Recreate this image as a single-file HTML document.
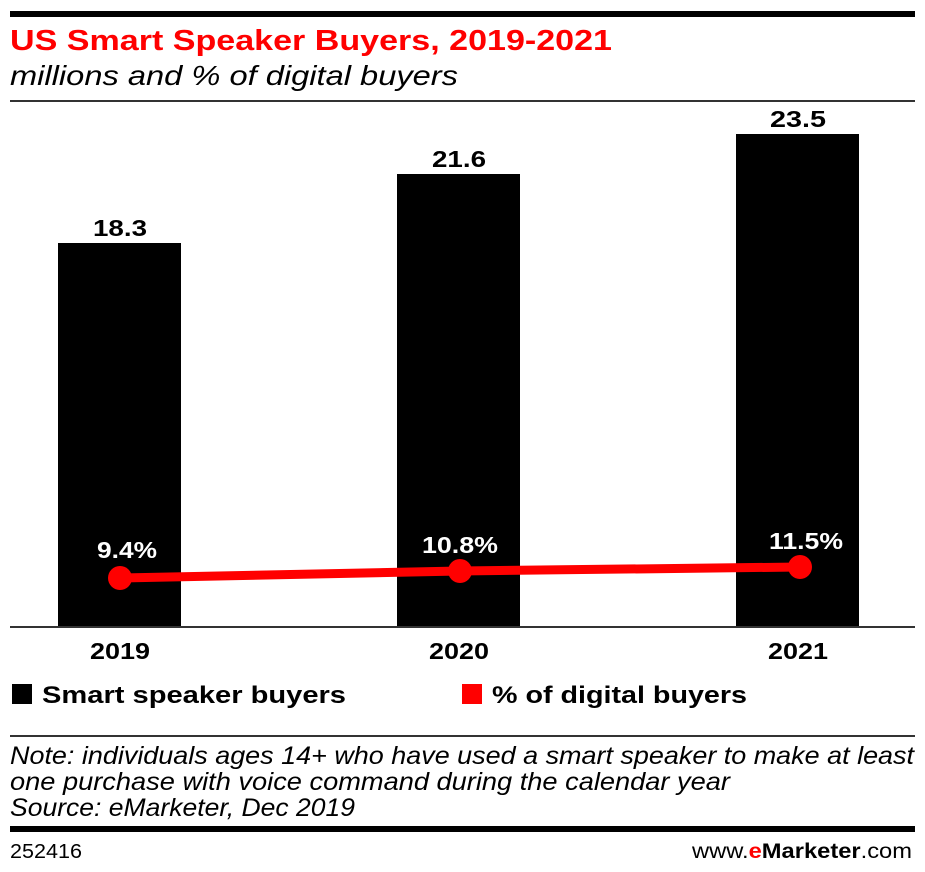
<!DOCTYPE html>
<html><head><meta charset="utf-8"><style>body{margin:0;background:#fff}svg{display:block}</style></head><body>
<svg width="925" height="872" viewBox="0 0 925 872" xmlns="http://www.w3.org/2000/svg" font-family="Liberation Sans, sans-serif">
<rect x="10" y="11" width="905" height="6" fill="#000"/>
<text x="10" y="50" font-size="29" font-weight="bold" fill="#ff0000" textLength="602" lengthAdjust="spacingAndGlyphs">US Smart Speaker Buyers, 2019-2021</text>
<text x="10" y="85" font-size="28" font-style="italic" fill="#000" textLength="448" lengthAdjust="spacingAndGlyphs">millions and % of digital buyers</text>
<rect x="10" y="100" width="905" height="2" fill="#333"/>
<rect x="58" y="243" width="123" height="384" fill="#000"/>
<rect x="397" y="174" width="123" height="453" fill="#000"/>
<rect x="736" y="134" width="123" height="493" fill="#000"/>
<rect x="10" y="626" width="905" height="2" fill="#333"/>
<g font-size="23" font-weight="bold" text-anchor="middle" fill="#000" lengthAdjust="spacingAndGlyphs">
<text x="120" y="236" textLength="54" lengthAdjust="spacingAndGlyphs">18.3</text><text x="459" y="167" textLength="54" lengthAdjust="spacingAndGlyphs">21.6</text><text x="798" y="127" textLength="56" lengthAdjust="spacingAndGlyphs">23.5</text>
<text x="120" y="659" textLength="60" lengthAdjust="spacingAndGlyphs">2019</text><text x="459" y="659" textLength="60" lengthAdjust="spacingAndGlyphs">2020</text><text x="798" y="659" textLength="60" lengthAdjust="spacingAndGlyphs">2021</text>
</g>
<polyline points="120,578 460,571 800,567" fill="none" stroke="#ff0000" stroke-width="9"/>
<circle cx="120" cy="578" r="12" fill="#ff0000"/><circle cx="460" cy="571" r="12" fill="#ff0000"/><circle cx="800" cy="567" r="12" fill="#ff0000"/>
<g font-size="23" font-weight="bold" text-anchor="middle" fill="#fff">
<text x="127" y="558" textLength="60" lengthAdjust="spacingAndGlyphs">9.4%</text><text x="460" y="553" textLength="76" lengthAdjust="spacingAndGlyphs">10.8%</text><text x="806" y="549" textLength="74" lengthAdjust="spacingAndGlyphs">11.5%</text>
</g>
<rect x="12" y="684" width="20" height="20" fill="#000"/>
<text x="42" y="703" font-size="24" font-weight="bold" textLength="304" lengthAdjust="spacingAndGlyphs">Smart speaker buyers</text>
<rect x="462" y="684" width="20" height="20" fill="#ff0000"/>
<text x="492" y="703" font-size="24" font-weight="bold" textLength="255" lengthAdjust="spacingAndGlyphs">% of digital buyers</text>
<rect x="10" y="735" width="905" height="2" fill="#333"/>
<g font-size="25" font-style="italic" fill="#000">
<text x="10" y="764" textLength="904" lengthAdjust="spacingAndGlyphs">Note: individuals ages 14+ who have used a smart speaker to make at least</text>
<text x="10" y="790" textLength="720" lengthAdjust="spacingAndGlyphs">one purchase with voice command during the calendar year</text>
<text x="10" y="816" textLength="345" lengthAdjust="spacingAndGlyphs">Source: eMarketer, Dec 2019</text>
</g>
<rect x="10" y="826" width="905" height="6" fill="#000"/>
<text x="10" y="858" font-size="20" textLength="72" lengthAdjust="spacingAndGlyphs">252416</text>
<text x="912" y="858" font-size="21" text-anchor="end" textLength="220" lengthAdjust="spacingAndGlyphs">www.<tspan fill="#ff0000" font-weight="bold">e</tspan><tspan font-weight="bold">Marketer</tspan>.com</text>
</svg>
</body></html>
